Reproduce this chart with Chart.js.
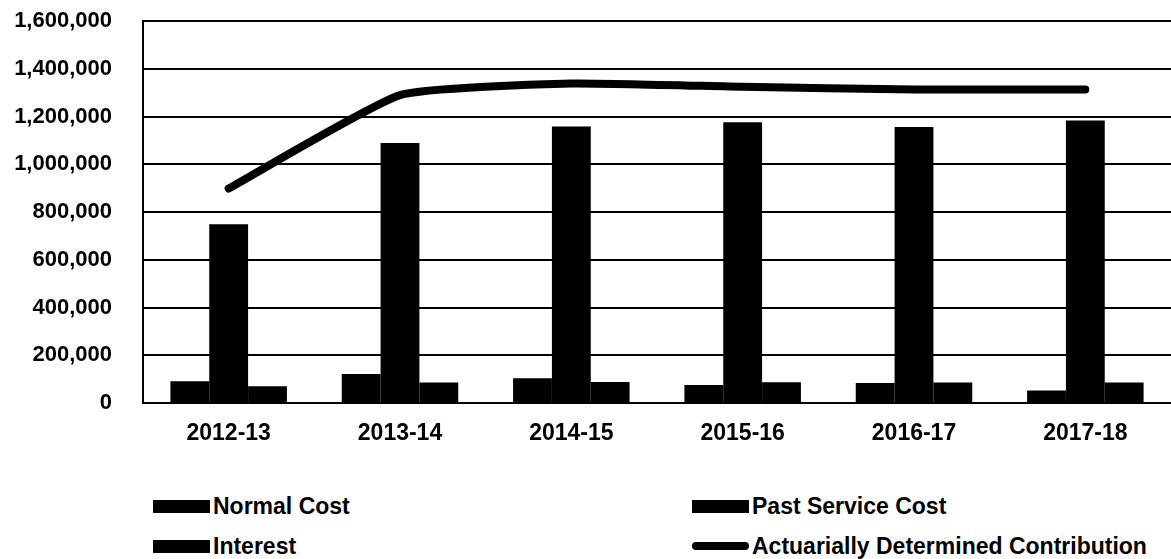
<!DOCTYPE html>
<html>
<head>
<meta charset="utf-8">
<script src="https://cdn.jsdelivr.net/npm/chart.js@4/dist/chart.umd.min.js"></script>
<style>
  html, body { margin: 0; padding: 0; background: #fff; }
  #wrap { position: relative; width: 1171px; height: 559px; overflow: hidden; }
  #box { position: absolute; left: 0; top: -23px; width: 1171px; height: 483px; }
  .leg { position: absolute; font: bold 23px "Liberation Sans", Arial, sans-serif; line-height: 24px; color: #000;
         display: flex; align-items: center; white-space: nowrap; }
  .sw { display: inline-block; width: 57px; height: 13px; background: #000; margin-right: 3px; }
  .sw.line { height: 8px; border-radius: 4px; }
</style>
</head>
<body>
<div id="wrap">
  <div id="box"><canvas id="chart"></canvas></div>
  <div id="legend"></div>
</div>
<script>
const years = ['2012-13', '2013-14', '2014-15', '2015-16', '2016-17', '2017-18'];
const normalCost = [91000, 122000, 104000, 75000, 84000, 52000];
const pastServiceCost = [749000, 1090000, 1159000, 1177000, 1157000, 1184000];
const interest = [70000, 86000, 88000, 87000, 86000, 86000];
const adc = [899000, 1290000, 1339000, 1325000, 1314000, 1314000];

const fontFamily = '"Liberation Sans", Arial, sans-serif';

const ctx = document.getElementById('chart').getContext('2d');

const chart = new Chart(ctx, {
    type: 'bar',
    data: {
        labels: years,
        datasets: [
            { label: 'Normal Cost', data: normalCost, backgroundColor: '#000', order: 1 },
            { label: 'Past Service Cost', data: pastServiceCost, backgroundColor: '#000', order: 1 },
            { label: 'Interest', data: interest, backgroundColor: '#000', order: 1 },
            {
                type: 'line',
                label: 'Actuarially Determined Contribution',
                data: adc,
                borderColor: '#000',
                borderWidth: 8,
                borderCapStyle: 'round',
                borderJoinStyle: 'round',
                tension: 0.15,
                pointRadius: 0,
                fill: false,
                order: 0
            }
        ]
    },
    options: {
        responsive: true,
        maintainAspectRatio: false,
        animation: false,
        layout: { padding: { top: 0, right: 0, bottom: 7, left: 0 } },
        datasets: {
            bar: { categoryPercentage: 0.68, barPercentage: 1.0 }
        },
        scales: {
            x: {
                grid: { display: false, drawTicks: false },
                border: { color: '#000', width: 2 },
                ticks: { color: '#000', padding: 17, font: { family: fontFamily, size: 23, weight: 'bold' } },
                afterFit: s => { s.height = 50; }
            },
            y: {
                min: 0,
                max: 1600000,
                grid: { color: '#000', lineWidth: 2, drawTicks: false },
                border: { color: '#000', width: 2 },
                ticks: {
                    stepSize: 200000,
                    color: '#000',
                    padding: 31,
                    font: { family: fontFamily, size: 22, weight: 'bold' },
                    callback: v => v.toLocaleString('en-US')
                },
                afterFit: s => { s.width = 143; }
            }
        },
        plugins: {
            legend: { display: false },
            tooltip: { enabled: false }
        }
    }
});

// legende en deux colonnes, construite a partir des datasets
const legendPos = [
    { left: 153, top: 494 },
    { left: 692, top: 494 },
    { left: 153, top: 534 },
    { left: 692, top: 534 }
];
let html = '';
chart.data.datasets.forEach((d, i) => {
    const cls = d.type === 'line' ? 'sw line' : 'sw';
    html += `<div class="leg" style="left:${legendPos[i].left}px;top:${legendPos[i].top}px"><span class="${cls}"></span>${d.label}</div>`;
});
document.getElementById('legend').innerHTML = html;
</script>
</body>
</html>
